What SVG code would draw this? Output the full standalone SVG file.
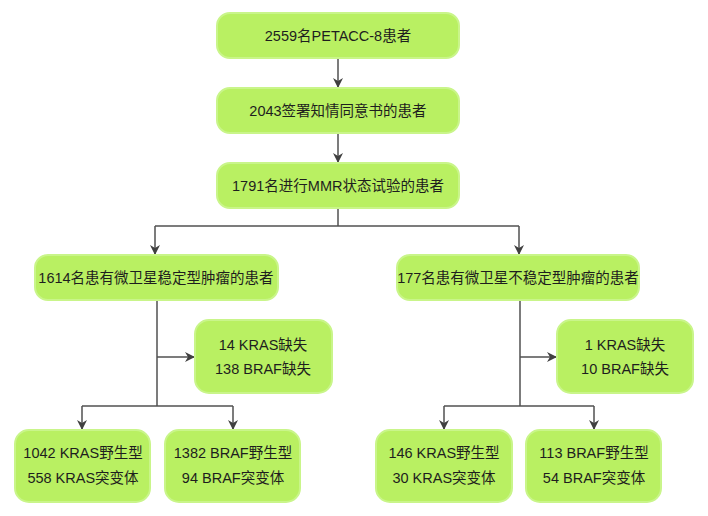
<svg xmlns="http://www.w3.org/2000/svg" width="708" height="516" viewBox="0 0 708 516">
<defs>
<style>
.box{fill:#b9f062;stroke:#c9f58a;stroke-width:2}
.t{font-family:"Liberation Sans","Noto Sans CJK SC",sans-serif;font-size:14.5px;fill:#1e1e1e;text-anchor:middle}
.c{fill:none;stroke:#505050;stroke-width:1.5}
</style>
<marker id="ah" viewBox="0 0 10 10" refX="10" refY="5" markerWidth="10" markerHeight="10" markerUnits="userSpaceOnUse" orient="auto">
<path d="M0,0 L10,5 L0,10 L3,5 Z" fill="#404040"/>
</marker>
</defs>
<rect width="708" height="516" fill="#ffffff"/>
<g id="connectors">
<path class="c" d="M338,58 V88" marker-end="url(#ah)"/>
<path class="c" d="M338,133 V163" marker-end="url(#ah)"/>
<path class="c" d="M338,208 V226"/>
<path class="c" d="M155,226 H519"/>
<path class="c" d="M155,226 V255" marker-end="url(#ah)"/>
<path class="c" d="M519,226 V255" marker-end="url(#ah)"/>
<path class="c" d="M157,300 V406"/>
<path class="c" d="M157,357 H195" marker-end="url(#ah)"/>
<path class="c" d="M82,406 H233"/>
<path class="c" d="M82,406 V430" marker-end="url(#ah)"/>
<path class="c" d="M233,406 V430" marker-end="url(#ah)"/>
<path class="c" d="M520,300 V406"/>
<path class="c" d="M520,357 H557" marker-end="url(#ah)"/>
<path class="c" d="M444,406 H594"/>
<path class="c" d="M444,406 V430" marker-end="url(#ah)"/>
<path class="c" d="M594,406 V430" marker-end="url(#ah)"/>
</g>
<g id="n1"><rect class="box" x="217" y="13" width="242" height="45" rx="13"/><text class="t" x="338" y="41">2559名PETACC-8患者</text></g>
<g id="n2"><rect class="box" x="217" y="88" width="242" height="45" rx="13"/><text class="t" x="338" y="116">2043签署知情同意书的患者</text></g>
<g id="n3"><rect class="box" x="217" y="163" width="242" height="45" rx="13"/><text class="t" x="338" y="191">1791名进行MMR状态试验的患者</text></g>
<g id="nL"><rect class="box" x="35" y="255" width="243" height="45" rx="13"/><text class="t" x="156" y="283">1614名患有微卫星稳定型肿瘤的患者</text></g>
<g id="nR"><rect class="box" x="397" y="255" width="242" height="45" rx="13"/><text class="t" x="518" y="283">177名患有微卫星不稳定型肿瘤的患者</text></g>
<g id="nLM"><rect class="box" x="195" y="320" width="137" height="73" rx="14"/><text class="t" x="263" y="350">14 KRAS缺失</text><text class="t" x="263" y="374">138 BRAF缺失</text></g>
<g id="nRM"><rect class="box" x="557" y="320" width="136" height="73" rx="14"/><text class="t" x="625" y="350">1 KRAS缺失</text><text class="t" x="625" y="374">10 BRAF缺失</text></g>
<g id="nLL1"><rect class="box" x="15" y="430" width="135" height="72" rx="14"/><text class="t" x="83" y="458">1042 KRAS野生型</text><text class="t" x="83" y="483">558 KRAS突变体</text></g>
<g id="nLL2"><rect class="box" x="165" y="430" width="135" height="72" rx="14"/><text class="t" x="233" y="458">1382 BRAF野生型</text><text class="t" x="233" y="483">94 BRAF突变体</text></g>
<g id="nRL1"><rect class="box" x="376" y="430" width="136" height="72" rx="14"/><text class="t" x="444" y="458">146 KRAS野生型</text><text class="t" x="444" y="483">30 KRAS突变体</text></g>
<g id="nRL2"><rect class="box" x="526" y="430" width="135" height="72" rx="14"/><text class="t" x="594" y="458">113 BRAF野生型</text><text class="t" x="594" y="483">54 BRAF突变体</text></g>
</svg>
